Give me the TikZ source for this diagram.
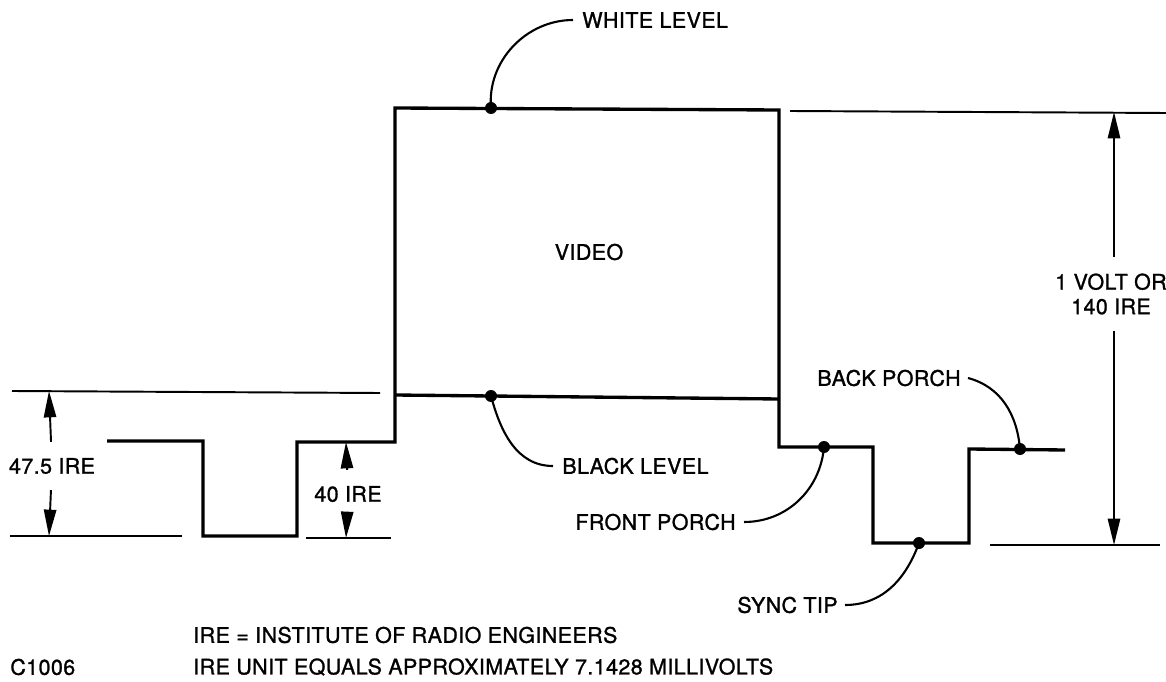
\documentclass[tikz,border=0pt]{standalone}
\usepackage{fontspec}
\setmainfont{TeX Gyre Heros}
\newfontfamily\diagfont{TeX Gyre Heros}[FakeBold=1.2, LetterSpace=2]
\usepackage{tikz}
\usetikzlibrary{arrows.meta}

\begin{document}
\begin{tikzpicture}[
    x=0.02cm, y=-0.02cm,
    wave/.style={line width=1.9pt, line join=miter},
    refline/.style={line width=1.1pt},
    dim/.style={line width=1.1pt, -{Triangle[length=15pt,width=7pt]}},
    leader/.style={line width=1.2pt},
    lbl/.style={font=\diagfont\fontsize{12.2}{14}\selectfont, inner sep=0pt},
    dimlbl/.style={font=\diagfont\fontsize{12.2}{14}\selectfont, inner sep=9pt, align=center},
    dot/.style={circle, fill, inner sep=0pt, minimum size=0.24cm}
]
    \useasboundingbox (0,0) rectangle (1166,682);

    \draw[wave] (107,441) -- (203,441) -- (203,536) -- (297,536) -- (297,442) -- (395,442)
        -- (395,108) -- (779,110) -- (779,447) -- (873,447) -- (873,543) -- (969,543)
        -- (969,449) -- (1065,450);
    \draw[wave] (395,395) -- (779,399);

    \draw[refline] (12,391) -- (380,393);
    \draw[refline] (10,536) -- (182,536);
    \draw[refline] (306,538) -- (391,538);
    \draw[refline] (790,111) -- (1166,113);
    \draw[refline] (990,545) -- (1160,545);

    \node[lbl] at (589,252) {VIDEO};

    \node[dot] (wdot) at (491,108) {};
    \node[dot] (bdot) at (491,396) {};
    \node[dot] (fdot) at (824,447) {};
    \node[dot] (sdot) at (919,543) {};
    \node[dot] (pdot) at (1020,449) {};

    \node[lbl, anchor=west] (white) at (582,20) {WHITE LEVEL};
    \node[lbl, anchor=west] (black) at (562,466) {BLACK LEVEL};
    \node[lbl, anchor=east] (front) at (736,522) {FRONT PORCH};
    \node[lbl, anchor=east] (sync) at (838,605) {SYNC TIP};
    \node[lbl, anchor=east] (back) at (961,378) {BACK PORCH};

    \draw[leader] (wdot.center) to[out=95, in=180] ([xshift=-0.18cm]white.west);
    \draw[leader] (bdot.center) to[out=-75, in=180] ([xshift=-0.18cm]black.west);
    \draw[leader] (fdot.center) to[out=-95, in=0] ([xshift=0.16cm]front.east);
    \draw[leader] (sdot.center) to[out=-110, in=0] ([xshift=0.14cm]sync.east);
    \draw[leader] (pdot.center) to[out=95, in=-15] ([xshift=0.14cm]back.east);

    \coordinate (a475top) at (49,391);
    \coordinate (a475bot) at (49,536);
    \coordinate (a40top) at (346,442);
    \coordinate (a40bot) at (346,538);
    \coordinate (avtop) at (1114,112);
    \coordinate (avbot) at (1114,545);

    \node[dimlbl] (d475) at (52,466) {47.5 IRE};
    \node[dimlbl] (d40) at (348,494) {40 IRE};
    \node[dimlbl, inner sep=9pt] (dvolt) at (1111,294) {1 VOLT OR\\140 IRE};

    \draw[dim] (d475) -- (a475top);
    \draw[dim] (d475) -- (a475bot);
    \draw[dim] (d40) -- (a40top);
    \draw[dim] (d40) -- (a40bot);
    \draw[dim] (dvolt.north -| avtop) -- (avtop);
    \draw[dim] (dvolt.south -| avbot) -- (avbot);

    \node[lbl, anchor=west] (note1) at (193,635) {IRE = INSTITUTE OF RADIO ENGINEERS};
    \node[lbl, anchor=west] (note2) at (193,667) {IRE UNIT EQUALS APPROXIMATELY 7.1428 MILLIVOLTS};
    \node[lbl, anchor=west] (code) at (10,667) {C1006};
\end{tikzpicture}
\end{document}
